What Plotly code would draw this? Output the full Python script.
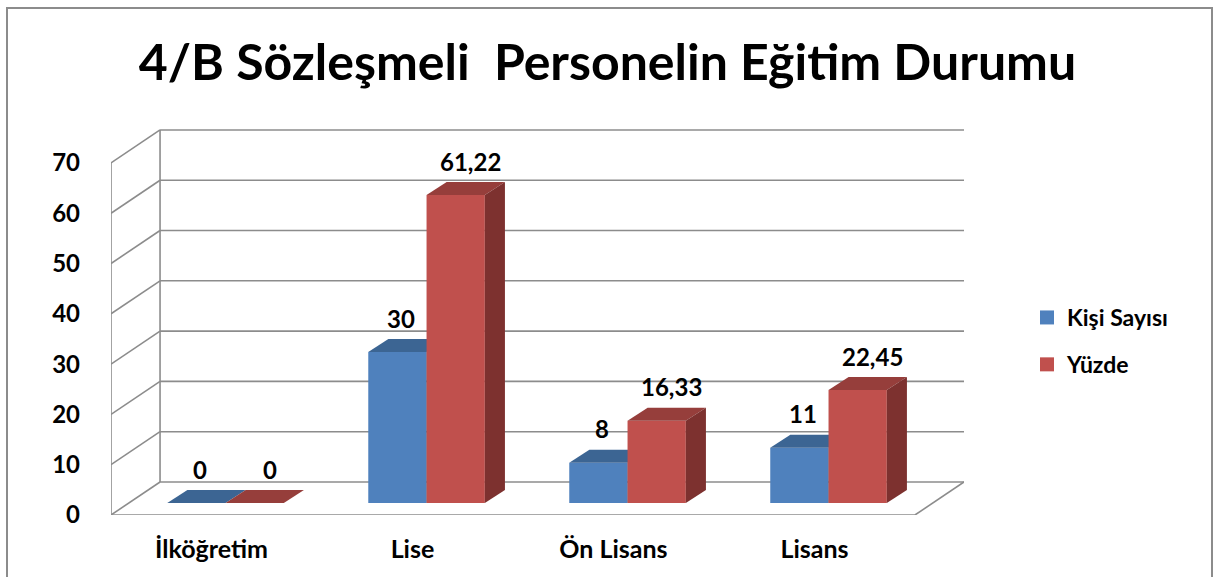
import plotly.graph_objects as go

categories = ["İlköğretim", "Lise", "Ön Lisans", "Lisans"]
kisi_sayisi = [0, 30, 8, 11]
yuzde = [0, 61.22, 16.33, 22.45]
series_names = ["Kişi Sayısı", "Yüzde"]
y_ticks = [0, 10, 20, 30, 40, 50, 60, 70]
title_text = "4/B Sözleşmeli\u00a0 Personelin Eğitim Durumu"

W, H = 1215, 577
FONT = "Lato"

# geometry (in axis units)
DX, DY = 0.244, 6.56          # depth of back wall
BAR_W = 0.29                  # bar width
PAIR_SHIFT = 0.07             # shift of bar pair due to depth
BASE = 2.39                   # bar base (middle depth)
BDX, BDY = 0.10, 2.58         # bar depth
LABEL_DX = [0.02, 0.075]      # label horizontal offset per series

colors = {
    "Kişi Sayısı": ("#4F81BD", "#3C6593", "#385D8A"),
    "Yüzde": ("#C0504D", "#963E3B", "#7D312F"),
}
GRID = "#8C8C8C"

fig = go.Figure()

shapes = []
x_left = -0.5
x_right_front = len(categories) - 0.5
for v in y_ticks:
    shapes.append(dict(type="line", xref="x", yref="y", x0=x_left, y0=v, x1=x_left + DX, y1=v + DY,
                       line=dict(color=GRID, width=1.6), layer="below"))
    shapes.append(dict(type="line", xref="x", yref="y", x0=x_left + DX, y0=v + DY,
                       x1=x_right_front + DX, y1=v + DY, line=dict(color=GRID, width=1.6), layer="below"))
shapes.append(dict(type="line", xref="x", yref="y", x0=x_left, y0=0, x1=x_left, y1=y_ticks[-1],
                   line=dict(color=GRID, width=1.6), layer="below"))
shapes.append(dict(type="line", xref="x", yref="y", x0=x_left + DX, y0=DY, x1=x_left + DX, y1=y_ticks[-1] + DY,
                   line=dict(color=GRID, width=1.6), layer="below"))
shapes.append(dict(type="line", xref="x", yref="y", x0=x_left, y0=0, x1=x_right_front, y1=0,
                   line=dict(color=GRID, width=1.6), layer="below"))
shapes.append(dict(type="line", xref="x", yref="y", x0=x_right_front, y0=0, x1=x_right_front + DX, y1=DY,
                   line=dict(color=GRID, width=1.6), layer="below"))
shapes.append(dict(type="rect", xref="paper", yref="paper", x0=7 / W, y0=-0.01, x1=1212 / W, y1=1 - 8 / H,
                   line=dict(color="#8C8C8C", width=2), fillcolor="rgba(0,0,0,0)", layer="below"))

annotations = []
for si, (name, vals) in enumerate(zip(series_names, [kisi_sayisi, yuzde])):
    front_c, top_c, side_c = colors[name]
    for ci, v in enumerate(vals):
        xl = ci + PAIR_SHIFT - BAR_W + si * BAR_W
        xr = xl + BAR_W
        yb = BASE
        yt = BASE + v
        fig.add_trace(go.Scatter(x=[xl, xr, xr, xl, xl], y=[yb, yb, yt, yt, yb], fill="toself",
                                 fillcolor=front_c, mode="lines", line=dict(width=0, color=front_c),
                                 showlegend=False, hoverinfo="skip"))
        fig.add_trace(go.Scatter(x=[xl, xr, xr + BDX, xl + BDX, xl], y=[yt, yt, yt + BDY, yt + BDY, yt],
                                 fill="toself", fillcolor=top_c, mode="lines", line=dict(width=0, color=top_c),
                                 showlegend=False, hoverinfo="skip"))
        if v > 0:
            fig.add_trace(go.Scatter(x=[xr, xr + BDX, xr + BDX, xr, xr], y=[yb, yb + BDY, yt + BDY, yt, yb],
                                     fill="toself", fillcolor=side_c, mode="lines",
                                     line=dict(width=0, color=side_c),
                                     showlegend=False, hoverinfo="skip"))
        label = f"{v:.2f}".replace(".", ",") if v != int(v) else str(int(v))
        annotations.append(dict(x=(xl + xr) / 2 + LABEL_DX[si], y=yt + BDY, xref="x", yref="y",
                                text=label, showarrow=False, yshift=21,
                                font=dict(family=FONT, size=24, color="#000000", weight="bold")))

for name in series_names:
    fig.add_trace(go.Scatter(x=[None], y=[None], mode="markers", name=name, legendgroup=name,
                             marker=dict(symbol="square", size=14, color=colors[name][0])))

fig.update_layout(
    width=W, height=H,
    margin=dict(l=0, r=0, t=0, b=0),
    paper_bgcolor="white", plot_bgcolor="white",
    shapes=shapes,
    annotations=annotations,
    title=dict(text=title_text, x=0.5, xanchor="center", y=1 - 62 / H, yanchor="middle",
               font=dict(family=FONT, size=50, color="#000000", weight="bold")),
    legend=dict(x=1027 / W, y=1 - 296 / H, xanchor="left", yanchor="top", tracegroupgap=14,
                font=dict(family=FONT, size=23, color="#000000", weight="bold"),
                bgcolor="rgba(0,0,0,0)"),
    xaxis=dict(domain=[111 / W, 964 / W], range=[-0.5, x_right_front + DX],
               tickvals=list(range(len(categories))), ticktext=categories,
               showgrid=False, zeroline=False, showline=False, ticks="", ticklabelstandoff=17,
               automargin=False, fixedrange=True,
               tickfont=dict(family=FONT, size=25, color="#000000", weight="bold")),
    yaxis=dict(domain=[(H - 515) / H, (H - 125.2) / H], range=[0, 77.5],
               tickvals=y_ticks, ticktext=[str(t) for t in y_ticks],
               showgrid=False, zeroline=False, showline=False, ticks="", ticklabelstandoff=30,
               automargin=False, fixedrange=True,
               tickfont=dict(family=FONT, size=24, color="#000000", weight="bold")),
    showlegend=True,
)

fig.write_html("out.html", config={"displayModeBar": False},
               post_script="document.body.style.margin='0';document.body.style.overflow='hidden';")
